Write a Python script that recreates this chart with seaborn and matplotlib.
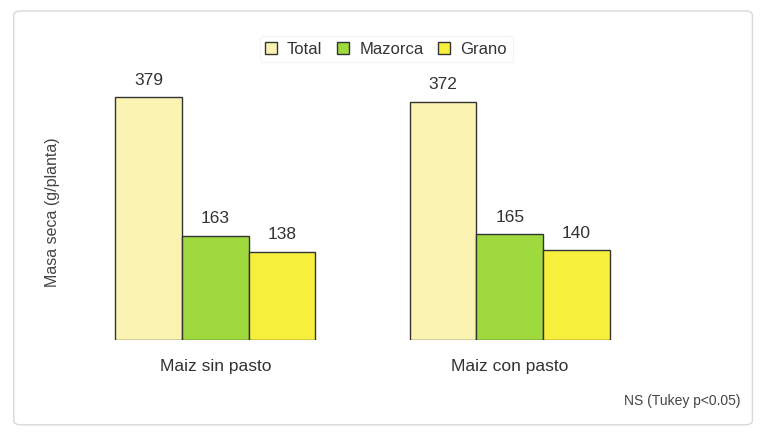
import matplotlib
matplotlib.use("Agg")
import matplotlib.pyplot as plt
import seaborn as sns
import pandas as pd
from matplotlib.patches import FancyBboxPatch, Patch

categories = ["Maiz sin pasto", "Maiz con pasto"]
series = ["Total", "Mazorca", "Grano"]
total = [379, 372]
mazorca = [163, 165]
grano = [138, 140]
colors = ["#FBF3B2", "#9ED93E", "#F6EF3C"]

rows = []
for i, c in enumerate(categories):
    for s, vals in zip(series, [total, mazorca, grano]):
        rows.append({"cat": c, "serie": s, "val": vals[i]})
df = pd.DataFrame(rows)

sns.set_theme(style="white")
plt.rcParams["font.family"] = ["Liberation Sans", "DejaVu Sans"]

fig = plt.figure(figsize=(7.6, 4.38), dpi=100)
ax = fig.add_axes([0.0895, 0.2237, 0.775, 0.585])
sns.barplot(data=df, x="cat", y="val", hue="serie", palette=colors, width=0.68,
            saturation=1, edgecolor="#333333", linewidth=1.0, ax=ax, legend=False)
ax.set_xlim(-0.5, 1.5)
ax.set_ylim(0, 400)
for sp in ax.spines.values():
    sp.set_visible(False)
ax.set_yticks([])
ax.tick_params(axis="x", length=0, pad=14, labelsize=12.5, labelcolor="#333333")
ax.set_xlabel("")
ax.set_ylabel("Masa seca (g/planta)", fontsize=11.5, color="#444444", labelpad=6)

for cont in ax.containers:
    ax.bar_label(cont, fmt="%d", padding=7, fontsize=12.5, color="#333333")

handles = [Patch(facecolor=c, edgecolor="#333333", linewidth=1.0) for c in colors]
leg = fig.legend(handles, series, loc="center", bbox_to_anchor=(0.508, 0.888), ncol=3,
                 frameon=True, fontsize=12, handlelength=0.7, handleheight=0.7,
                 handletextpad=0.6, columnspacing=0.9, borderpad=0.35)
leg.get_frame().set_edgecolor("#f2f2f2")
leg.get_frame().set_linewidth(0.8)
for t in leg.get_texts():
    t.set_color("#333333")

fig.text(0.975, 0.085, "NS (Tukey p<0.05)", ha="right", va="center", fontsize=10, color="#444444")

border = FancyBboxPatch((0.018, 0.03), 0.972, 0.945, boxstyle="round,pad=0,rounding_size=0.01",
                        transform=fig.transFigure, fill=False, edgecolor="#d8d8d8", linewidth=1.0)
fig.patches.append(border)

fig.savefig("out.png", dpi=100)
